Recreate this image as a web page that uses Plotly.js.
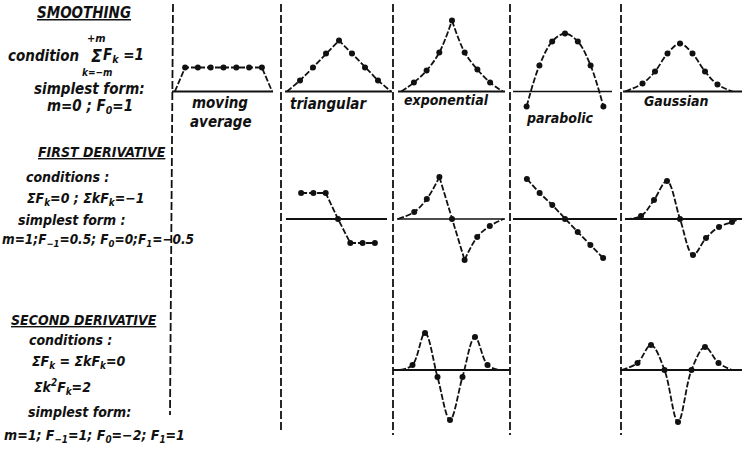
<!DOCTYPE html>
<html><head><meta charset="utf-8">
<script src="https://cdn.plot.ly/plotly-3.0.1.min.js"></script>
<style>html,body{margin:0;padding:0;background:#fff}#chart{width:742px;height:452px}</style>
</head><body><div id="chart"></div>
<script>
// ================= DATA (arbitrary height units) =================
// SMOOTHING row
const maK = [-3,-2,-1,0,1,2,3];
const maF = [24,24,24,24,24,24,24];
const maFeetK = [-3.8, 3.8];

const triK = [-3,-2,-1,0,1,2,3];
const triF = [11,24,38,51,38,24,11];
const triFeetK = [-4, 4];

const expK = [-3,-2,-1,0,1,2,3];
const expF = [9,21,39,71,39,22,9];
const expFeetK = [-4, 4];

const parK = [-3,-2,-1,0,1,2,3];
const parF = [-15,26,50,58,50,26,-15];

const gauK = [-3,-2,-1,0,1,2,3];
const gauF = [8,20,38,48,38,20,7];
const gauFeetK = [-4.4, 4.2];

// FIRST DERIVATIVE row
const d1TriK = [-3,-2,-1,0,1,2,3];
const d1TriF = [26,26,26,0,-24,-24,-24];

const d1ExpK = [-3,-2,-1,0,1,2,3];
const d1ExpF = [7,20,42,0,-41,-18,-7];
const d1ExpFeetK = [-4.3, 4.1];

const d1ParK = [-3,-2,-1,0,1,2,3];
const d1ParF = [40,26,14,0,-13,-26,-39];

const d1GauK = [-3,-2,-1,0,1,2,3,4];
const d1GauF = [3,19,38,0,-36,-19,-8,-3];
const d1GauFeetK = [-4.2, 4.6];

// SECOND DERIVATIVE row
const d2ExpK = [-3,-2,-1,0,1,2,3];
const d2ExpF = [5,37,-7,-50,-7,33,5];
const d2ExpFeetK = [-4, 4];

const d2GauK = [-3,-2,-1,0,1,2,3];
const d2GauF = [7,25,0,-52,0,23,7];
const d2GauFeetK = [-4.2, 4];

// Texts
const panelLabels = ['moving', 'average', 'triangular', 'exponential', 'parabolic', 'Gaussian'];
const sectionTitles = ['SMOOTHING', 'FIRST DERIVATIVE', 'SECOND DERIVATIVE'];

// ================= LAYOUT GEOMETRY =================
const W = 742, H = 452;
const rows = [
  {base: 91.5, top: 8,   bot: 128},
  {base: 219,  top: 160, bot: 272},
  {base: 370,  top: 318, bot: 432}
];
// panel pixel boxes: x0,x1 (domain), cx (pixel of k=0), s (pixels per k step)
const panels = [
  {name:'ma',    row:0, x0:172, x1:273, cx:223.5, s:12.8},
  {name:'tri',   row:0, x0:285, x1:392, cx:339,   s:13.0},
  {name:'exp',   row:0, x0:398, x1:505, cx:452,   s:12.7},
  {name:'par',   row:0, x0:513, x1:612, cx:565,   s:12.8},
  {name:'gau',   row:0, x0:623, x1:742, cx:680,   s:12.5},
  {name:'d1tri', row:1, x0:286, x1:387, cx:338,   s:12.3},
  {name:'d1exp', row:1, x0:397, x1:505, cx:452,   s:12.6},
  {name:'d1par', row:1, x0:513, x1:617, cx:565,   s:12.7},
  {name:'d1gau', row:1, x0:625, x1:742, cx:680,   s:13.0},
  {name:'d2exp', row:2, x0:393, x1:510, cx:450,   s:12.5},
  {name:'d2gau', row:2, x0:620, x1:742, cx:678,   s:13.5}
];

const layout = {
  width: W, height: H,
  margin: {l:0, r:0, t:0, b:0},
  paper_bgcolor: '#fff', plot_bgcolor: 'rgba(0,0,0,0)',
  showlegend: false,
  shapes: [], annotations: []
};
const axIndex = {};
panels.forEach((p, i) => {
  const n = i + 1;
  axIndex[p.name] = n;
  const r = rows[p.row];
  layout['xaxis' + n] = {
    domain: [p.x0 / W, p.x1 / W],
    range: [(p.x0 - p.cx) / p.s, (p.x1 - p.cx) / p.s],
    visible: false, anchor: 'y' + n, fixedrange: true
  };
  layout['yaxis' + n] = {
    domain: [1 - r.bot / H, 1 - r.top / H],
    range: [r.base - r.bot, r.base - r.top],
    visible: false, anchor: 'x' + n, fixedrange: true
  };
  // baseline (F = 0) across the panel
  layout.shapes.push({
    type: 'line', xref: 'x' + n + ' domain', yref: 'y' + n,
    x0: 0, x1: 1, y0: 0, y1: 0,
    line: {color: '#111', width: (p.name === 'par' || p.name === 'd1exp') ? 1.3 : 1.8}
  });
});

// separators (dashed vertical lines)
const seps = [
  {x0: 173, x1: 170, y0: 4, y1: 415},
  {x0: 281, x1: 281, y0: 4, y1: 430},
  {x0: 393, x1: 393, y0: 4, y1: 435},
  {x0: 510, x1: 510, y0: 4, y1: 435},
  {x0: 621, x1: 621, y0: 4, y1: 435}
];
seps.forEach(sp => layout.shapes.push({
  type: 'line', xref: 'paper', yref: 'paper',
  x0: sp.x0 / W, x1: sp.x1 / W, y0: 1 - sp.y0 / H, y1: 1 - sp.y1 / H,
  line: {color: '#111', width: 1.8, dash: '8px,3px'}
}));

// ================= TRACES =================
const traces = [];
const LINE = {color: '#111', width: 1.8, dash: '6px,2px'};
function curve(name, xs, ys, shape) {
  const n = axIndex[name];
  traces.push({type: 'scatter', mode: 'lines', x: xs, y: ys,
    xaxis: 'x' + n, yaxis: 'y' + n, line: Object.assign({shape: shape || 'linear', smoothing: 1}, LINE),
    hoverinfo: 'skip', cliponaxis: false});
}
function dots(name, xs, ys) {
  const n = axIndex[name];
  traces.push({type: 'scatter', mode: 'markers', x: xs, y: ys,
    xaxis: 'x' + n, yaxis: 'y' + n, marker: {color: '#111', size: 6},
    hoverinfo: 'skip', cliponaxis: false});
}
function withFeet(k, f, feet) {
  return {x: [feet[0]].concat(k, [feet[1]]), y: [0].concat(f, [0])};
}
function sliceK(x, y, lo, hi) {
  const xs = [], ys = [];
  x.forEach((v, i) => { if (v >= lo && v <= hi) { xs.push(v); ys.push(y[i]); } });
  return {x: xs, y: ys};
}

// smoothing
let c = withFeet(maK, maF, maFeetK); curve('ma', c.x, c.y); dots('ma', maK, maF);
c = withFeet(triK, triF, triFeetK); curve('tri', c.x, c.y); dots('tri', triK, triF);
c = withFeet(expK, expF, expFeetK);
let a = sliceK(c.x, c.y, -99, 0), b = sliceK(c.x, c.y, 0, 99);
curve('exp', a.x, a.y, 'spline'); curve('exp', b.x, b.y, 'spline'); dots('exp', expK, expF);
curve('par', parK, parF, 'spline'); dots('par', parK, parF);
c = withFeet(gauK, gauF, gauFeetK); curve('gau', c.x, c.y, 'spline'); dots('gau', gauK, gauF);

// first derivative
curve('d1tri', d1TriK, d1TriF); dots('d1tri', d1TriK, d1TriF);
c = withFeet(d1ExpK, d1ExpF, d1ExpFeetK);
a = sliceK(c.x, c.y, -99, -1); b = sliceK(c.x, c.y, 1, 99); let m = sliceK(c.x, c.y, -1, 1);
curve('d1exp', a.x, a.y, 'spline'); curve('d1exp', m.x, m.y); curve('d1exp', b.x, b.y, 'spline');
dots('d1exp', d1ExpK, d1ExpF);
curve('d1par', d1ParK, d1ParF); dots('d1par', d1ParK, d1ParF);
c = withFeet(d1GauK, d1GauF, d1GauFeetK); curve('d1gau', c.x, c.y, 'spline'); dots('d1gau', d1GauK, d1GauF);

// second derivative
c = withFeet(d2ExpK, d2ExpF, d2ExpFeetK); curve('d2exp', c.x, c.y, 'spline'); dots('d2exp', d2ExpK, d2ExpF);
c = withFeet(d2GauK, d2GauF, d2GauFeetK); curve('d2gau', c.x, c.y, 'spline'); dots('d2gau', d2GauK, d2GauF);

// ================= TEXT =================
const FONT = '"DejaVu Sans Condensed", "DejaVu Sans", sans-serif';
function txt(t, x, y, size, anchor) {
  layout.annotations.push({
    text: '<b><i>' + t + '</i></b>', xref: 'paper', yref: 'paper',
    x: x / W, y: 1 - y / H, xanchor: anchor || 'center', yanchor: 'middle',
    showarrow: false, font: {family: FONT, size: size || 14, color: '#111'}
  });
}
// left column
txt('<u>' + sectionTitles[0] + '</u>', 84, 13, 15);
txt('condition', 43, 56, 15);
txt('Σ', 96, 56, 18);
txt('+m', 96, 38, 11);
txt('k=−m', 97, 72, 10);
txt('F<sub>k</sub> =1', 123, 56, 15);
txt('simplest form:', 89, 89, 15);
txt('m=0 ; F<sub>0</sub>=1', 90, 107, 15);

txt('<u>' + sectionTitles[1] + '</u>', 102, 152, 14);
txt('conditions :', 67, 177, 14);
txt('ΣF<sub>k</sub>=0 ; ΣkF<sub>k</sub>=−1', 86, 199, 14);
txt('simplest form :', 72, 220, 14);
txt('m=1;F<sub>−1</sub>=0.5; F<sub>0</sub>=0;F<sub>1</sub>=−0.5', 0, 240, 13.5, 'left');

txt('<u>' + sectionTitles[2] + '</u>', 84, 320, 14);
txt('conditions :', 70, 340, 14);
txt('ΣF<sub>k</sub> = ΣkF<sub>k</sub>=0', 78, 362, 14);
txt('Σk<sup>2</sup>F<sub>k</sub>=2', 62, 387, 14);
txt('simplest form:', 79, 412, 14);
txt('m=1; F<sub>−1</sub>=1; F<sub>0</sub>=−2; F<sub>1</sub>=1', 2, 436, 14, 'left');

// panel labels
txt(panelLabels[0], 220, 103, 15);
txt(panelLabels[1], 221, 122, 15);
txt(panelLabels[2], 288, 104, 15, 'left');
txt(panelLabels[3], 402, 100, 14, 'left');
txt(panelLabels[4], 524, 118, 14, 'left');
txt(panelLabels[5], 642, 101, 14, 'left');

Plotly.newPlot('chart', traces, layout, {staticPlot: true, displayModeBar: false});
</script>
</body></html>
